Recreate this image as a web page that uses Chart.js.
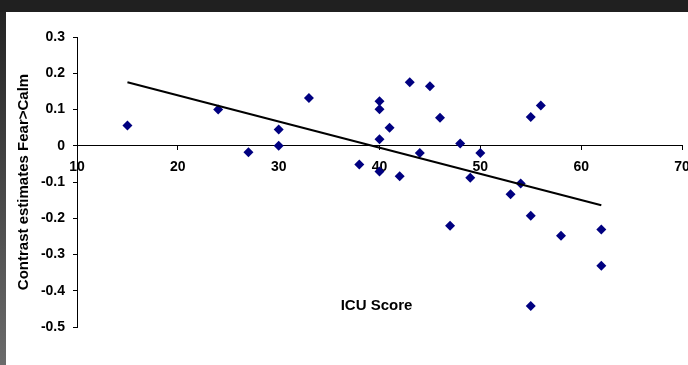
<!DOCTYPE html>
<html>
<head>
<meta charset="utf-8">
<script src="https://cdn.jsdelivr.net/npm/chart.js@4.4.1/dist/chart.umd.min.js"></script>
<style>
  html, body { margin: 0; padding: 0; width: 688px; height: 365px; overflow: hidden; background: #202020; }
  #strip { position: absolute; left: 0; top: 12px; width: 6px; height: 353px; background: linear-gradient(#242424, #6b6b6b); }
  #wrap { position: absolute; left: 6px; top: 12px; width: 682px; height: 353px; background: #fff; }
</style>
</head>
<body>
<div id="strip"></div>
<div id="wrap"><canvas id="chart" width="682" height="353"></canvas></div>
<script>
// ICU score vs contrast estimate (Fear > Calm)
const icuScores = [15, 24, 27, 30, 30, 33, 38, 40, 40, 40, 40, 41, 42, 43, 44,
                   45, 46, 47, 48, 49, 50, 53, 54, 55, 55, 56, 55, 58, 62, 62];
const contrastValues = [0.056, 0.100, -0.018, 0.045, 0.000, 0.132, -0.052, 0.123, 0.101, 0.018,
                        -0.071, 0.050, -0.084, 0.175, -0.020, 0.164, 0.077, -0.221, 0.006, -0.088,
                        -0.020, -0.134, -0.104, 0.079, -0.193, 0.111, -0.442, -0.248, -0.231, -0.331];

// trend line end points
const trendX = [15, 62];
const trendY = [0.175, -0.164];

const xTicks = [10, 20, 30, 40, 50, 60, 70];
const yTicks = [0.3, 0.2, 0.1, 0, -0.1, -0.2, -0.3, -0.4, -0.5];

const xTitle = "ICU Score";
const yTitle = "Contrast estimates Fear>Calm";

const FONT = "'Liberation Sans', Arial, sans-serif";

const xTitlePlugin = {
    id: "xTitleInside",
    afterDraw(chart) {
        const ctx = chart.ctx;
        const x = chart.scales.x.getPixelForValue(39.7);
        const y = chart.scales.y.getPixelForValue(-0.441);
        ctx.save();
        ctx.font = "bold 15px " + FONT;
        ctx.fillStyle = "#000";
        ctx.textAlign = "center";
        ctx.textBaseline = "middle";
        ctx.fillText(xTitle, x, y);
        ctx.restore();
    }
};

const ctx = document.getElementById("chart").getContext("2d");

new Chart(ctx, {
    data: {
        datasets: [
            {
                type: "line",
                data: trendX.map((x, i) => ({ x, y: trendY[i] })),
                borderColor: "#000",
                borderWidth: 2,
                pointRadius: 0,
                fill: false,
                order: 0
            },
            {
                type: "scatter",
                data: icuScores.map((x, i) => ({ x, y: contrastValues[i] })),
                pointStyle: "rectRot",
                pointRadius: 5,
                backgroundColor: "#000080",
                borderColor: "#000080",
                borderWidth: 0,
                order: 1
            }
        ]
    },
    options: {
        responsive: false,
        animation: false,
        devicePixelRatio: 1,
        layout: { padding: { top: 25, bottom: 38, left: 0, right: 6 } },
        plugins: {
            legend: { display: false },
            tooltip: { enabled: false }
        },
        scales: {
            x: {
                type: "linear",
                position: { y: 0 },
                min: 10,
                max: 70,
                afterBuildTicks: s => { s.ticks = xTicks.map(v => ({ value: v })); },
                afterFit: s => { s.height = 0; s.paddingLeft = 0; s.paddingRight = 0; },
                ticks: {
                    color: "#000",
                    font: { family: FONT, size: 14, weight: "bold" },
                    padding: 9,
                    maxRotation: 0,
                    autoSkip: false
                },
                grid: { drawOnChartArea: false, color: "#000", tickLength: 4 },
                border: { color: "#000", width: 1 }
            },
            y: {
                type: "linear",
                position: "left",
                min: -0.5,
                max: 0.3,
                afterBuildTicks: s => { s.ticks = yTicks.map(v => ({ value: v })); },
                afterFit: s => { s.width = 71; s.paddingTop = 0; s.paddingBottom = 0; },
                ticks: {
                    color: "#000",
                    font: { family: FONT, size: 14, weight: "bold" },
                    padding: 8,
                    callback: v => (v === 0 ? "0" : v.toFixed(1))
                },
                grid: { drawOnChartArea: false, color: "#000", tickLength: 4 },
                border: { color: "#000", width: 1 },
                title: {
                    display: true,
                    text: yTitle,
                    color: "#000",
                    font: { family: FONT, size: 15, weight: "bold" },
                    padding: { top: 9, bottom: 0 }
                }
            }
        }
    },
    plugins: [xTitlePlugin]
});
</script>
</body>
</html>
